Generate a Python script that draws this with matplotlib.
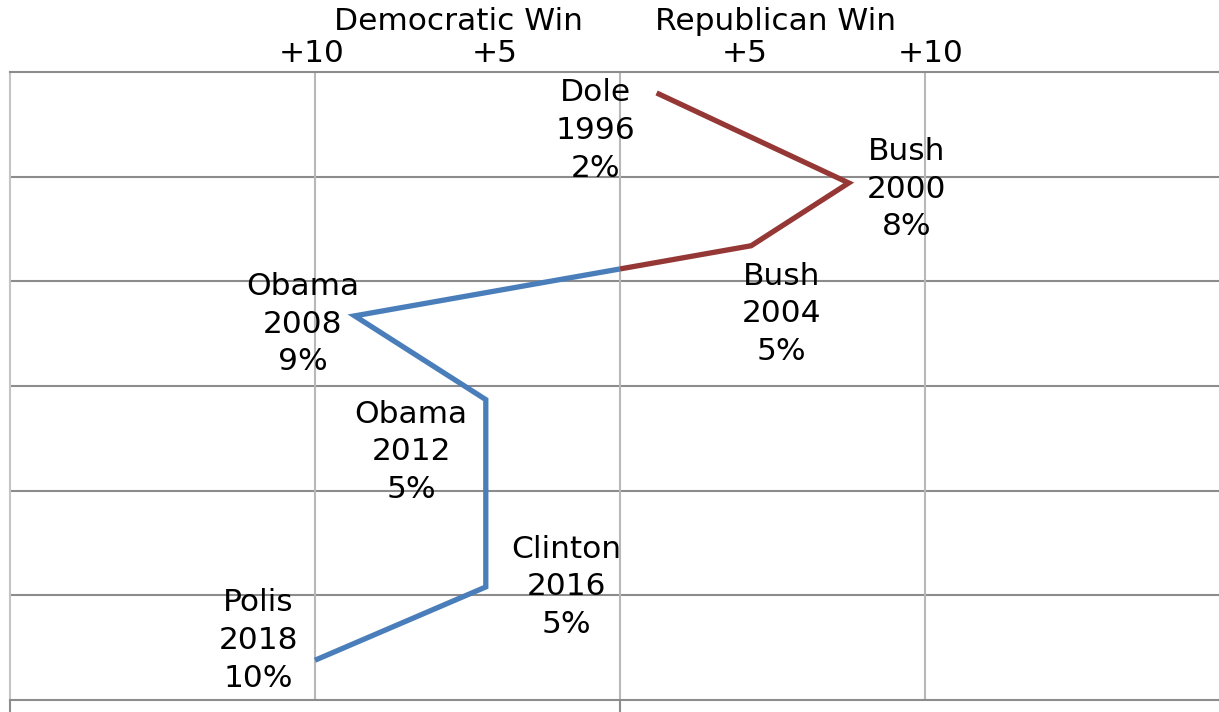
import numpy as np
import matplotlib
matplotlib.use("Agg")
import matplotlib.pyplot as plt
import matplotlib.transforms as mtransforms

# margin of victory (negative = Democratic win, positive = Republican win)
candidates = ["Dole", "Bush", "Bush", "Obama", "Obama", "Clinton", "Polis"]
years = ["1996", "2000", "2004", "2008", "2012", "2016", "2018"]
pct_labels = ["2%", "8%", "5%", "9%", "5%", "5%", "10%"]
margin = [1.2, 7.5, 4.3, -8.7, -4.4, -4.4, -10.0]
row = [0.2, 1.06, 1.66, 2.33, 3.13, 4.92, 5.62]

top_labels = ["+10", "+5", "+5", "+10"]
side_titles = ["Democratic Win", "Republican Win"]

# label placement (data units, relative to each point)
label_dx = [-2.0, 1.9, 1.0, -1.7, -2.45, 2.65, -1.85]
label_dy = [0.36, 0.06, 0.65, 0.08, 0.50, 0.0, -0.19]

RED = "#953735"
BLUE = "#4a7ebb"

plt.rcParams['font.family'] = ['DejaVu Sans']

fig = plt.figure(figsize=(12.19, 7.12), dpi=100)
ax = fig.add_axes([10 / 1219, 12 / 712, 1220 / 1219, 628 / 712])
ax.set_xlim(-20, 20)
ax.set_ylim(6, 0)

# grid
for y in range(1, 6):
    ax.axhline(y, color="#8c8c8c", lw=1.5, zorder=1)
for x in (-10, 0, 10):
    ax.axvline(x, color="#b8b8b8", lw=1.5, zorder=1)

ax.spines["right"].set_visible(False)
ax.spines["top"].set_color("#8c8c8c")
ax.spines["top"].set_linewidth(1.5)
ax.spines["bottom"].set_color("#8c8c8c")
ax.spines["bottom"].set_linewidth(1.5)
ax.spines["left"].set_color("#c4c4c4")
ax.spines["left"].set_linewidth(1.5)

ax.set_yticks([])
ax.set_xticks([-20, 0, 20])
ax.set_xticklabels([])
ax.tick_params(axis="x", direction="out", length=9, width=1.5, color="#8c8c8c")

# split the line into runs where it crosses zero
runs = [[(margin[0], row[0])]]
for i in range(len(margin) - 1):
    x0, x1, y0, y1 = margin[i], margin[i + 1], row[i], row[i + 1]
    if x0 * x1 < 0:
        t = x0 / (x0 - x1)
        yc = y0 + t * (y1 - y0)
        runs[-1].append((0, yc))
        runs.append([(0, yc)])
    runs[-1].append((x1, y1))

for r in runs:
    rx, ry = zip(*r)
    c = RED if sum(rx) > 0 else BLUE
    ax.plot(rx, ry, color=c, lw=3.8, solid_capstyle="butt",
            solid_joinstyle="miter", zorder=3)

for i in range(len(candidates)):
    ax.text(margin[i] + label_dx[i], row[i] + label_dy[i],
            f"{candidates[i]}\n{years[i]}\n{pct_labels[i]}",
            ha="center", va="center", fontsize=22.5, linespacing=1.38,
            color="black", zorder=4)

trans = mtransforms.blended_transform_factory(ax.transData, fig.transFigure)
top_pos = [-10.1, -4.1, 4.1, 10.2]
for lab, x in zip(top_labels, top_pos):
    ax.text(x, 1 - 54 / 712, lab, transform=trans, ha="center", va="center",
            fontsize=22.5)
for lab, x in zip(side_titles, [-5.3, 5.1]):
    ax.text(x, 1 - 21 / 712, lab, transform=trans, ha="center", va="center",
            fontsize=22.5)

fig.savefig("out.png", dpi=100)
